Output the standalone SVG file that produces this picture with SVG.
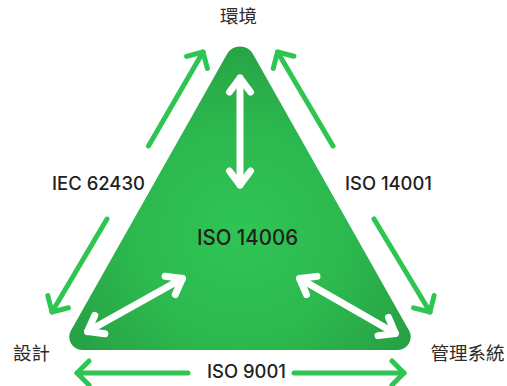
<svg xmlns="http://www.w3.org/2000/svg" width="507" height="386" viewBox="0 0 507 386">
  <style>
    .lat { font-family: Inter, "Noto Sans", "Liberation Sans", sans-serif; font-weight: 500; fill: #231f20; }
    .cjk { font-family: "Noto Sans CJK TC", "Noto Sans CJK SC", sans-serif; font-size: 18.5px; fill: #2e2a2a; text-anchor: middle; }
    .g { stroke: #2fc552; stroke-width: 5; stroke-linecap: round; fill: none; }
    .w { stroke: #ffffff; stroke-width: 7; stroke-linecap: round; fill: none; }
  </style>
  <defs>
    <radialGradient id="tri" gradientUnits="userSpaceOnUse" cx="240" cy="235" r="200">
      <stop offset="0" stop-color="#2fc555"/>
      <stop offset="0.55" stop-color="#2cb84e"/>
      <stop offset="1" stop-color="#27a044"/>
    </radialGradient>
    <marker id="gh" markerUnits="userSpaceOnUse" orient="auto" markerWidth="40" markerHeight="40" overflow="visible">
      <path d="M-12,-12 L0,0 L-12,12" stroke="#2fc552" stroke-width="5" stroke-linecap="round" stroke-linejoin="round" fill="none"/>
    </marker>
    <marker id="wh" markerUnits="userSpaceOnUse" orient="auto-start-reverse" markerWidth="40" markerHeight="40" overflow="visible">
      <path d="M-14,-10.5 L0,0 L-14,10.5" stroke="#ffffff" stroke-width="7" stroke-linecap="round" stroke-linejoin="round" fill="none"/>
    </marker>
  </defs>

  <g id="triangle">
    <path d="M226.9,54.2 A15,15 0 0 1 253.1,54.2 L409.04,330.58 A13,13 0 0 1 397.7,350 L82.3,350 A13,13 0 0 1 70.96,330.58 Z" fill="url(#tri)"/>
    <text class="lat" x="197" y="245" font-size="21" textLength="101" lengthAdjust="spacingAndGlyphs">ISO 14006</text>
  </g>

  <g id="node-env"><text class="cjk" x="238.5" y="23">環境</text></g>
  <g id="node-design"><text class="cjk" x="31.5" y="359.5">設計</text></g>
  <g id="node-mgmt"><text class="cjk" x="467.5" y="359.5">管理系統</text></g>

  <g id="connectors">
    <line class="w" x1="240" y1="78" x2="240" y2="185" marker-start="url(#wh)" marker-end="url(#wh)"/>
    <line class="w" x1="87.6" y1="331.5" x2="182.4" y2="278.5" marker-start="url(#wh)" marker-end="url(#wh)"/>
    <line class="w" x1="299.6" y1="278.5" x2="395.4" y2="333.5" marker-start="url(#wh)" marker-end="url(#wh)"/>

    <line class="g" x1="148.5" y1="146" x2="203" y2="52" marker-end="url(#gh)"/>
    <line class="g" x1="333" y1="146" x2="277.5" y2="52" marker-end="url(#gh)"/>
    <line class="g" x1="107" y1="219" x2="52" y2="312" marker-end="url(#gh)"/>
    <line class="g" x1="374" y1="219" x2="430" y2="312" marker-end="url(#gh)"/>
    <line class="g" x1="188" y1="373" x2="77" y2="373" marker-end="url(#gh)"/>
    <line class="g" x1="294" y1="373" x2="404" y2="373" marker-end="url(#gh)"/>
  </g>

  <g id="edge-labels">
    <text class="lat" x="52" y="189.5" font-size="18.3" textLength="93" lengthAdjust="spacingAndGlyphs">IEC 62430</text>
    <text class="lat" x="345" y="190" font-size="18.3" textLength="87" lengthAdjust="spacingAndGlyphs">ISO 14001</text>
    <text class="lat" x="207" y="377.5" font-size="18.3" textLength="79" lengthAdjust="spacingAndGlyphs">ISO 9001</text>
  </g>
</svg>
